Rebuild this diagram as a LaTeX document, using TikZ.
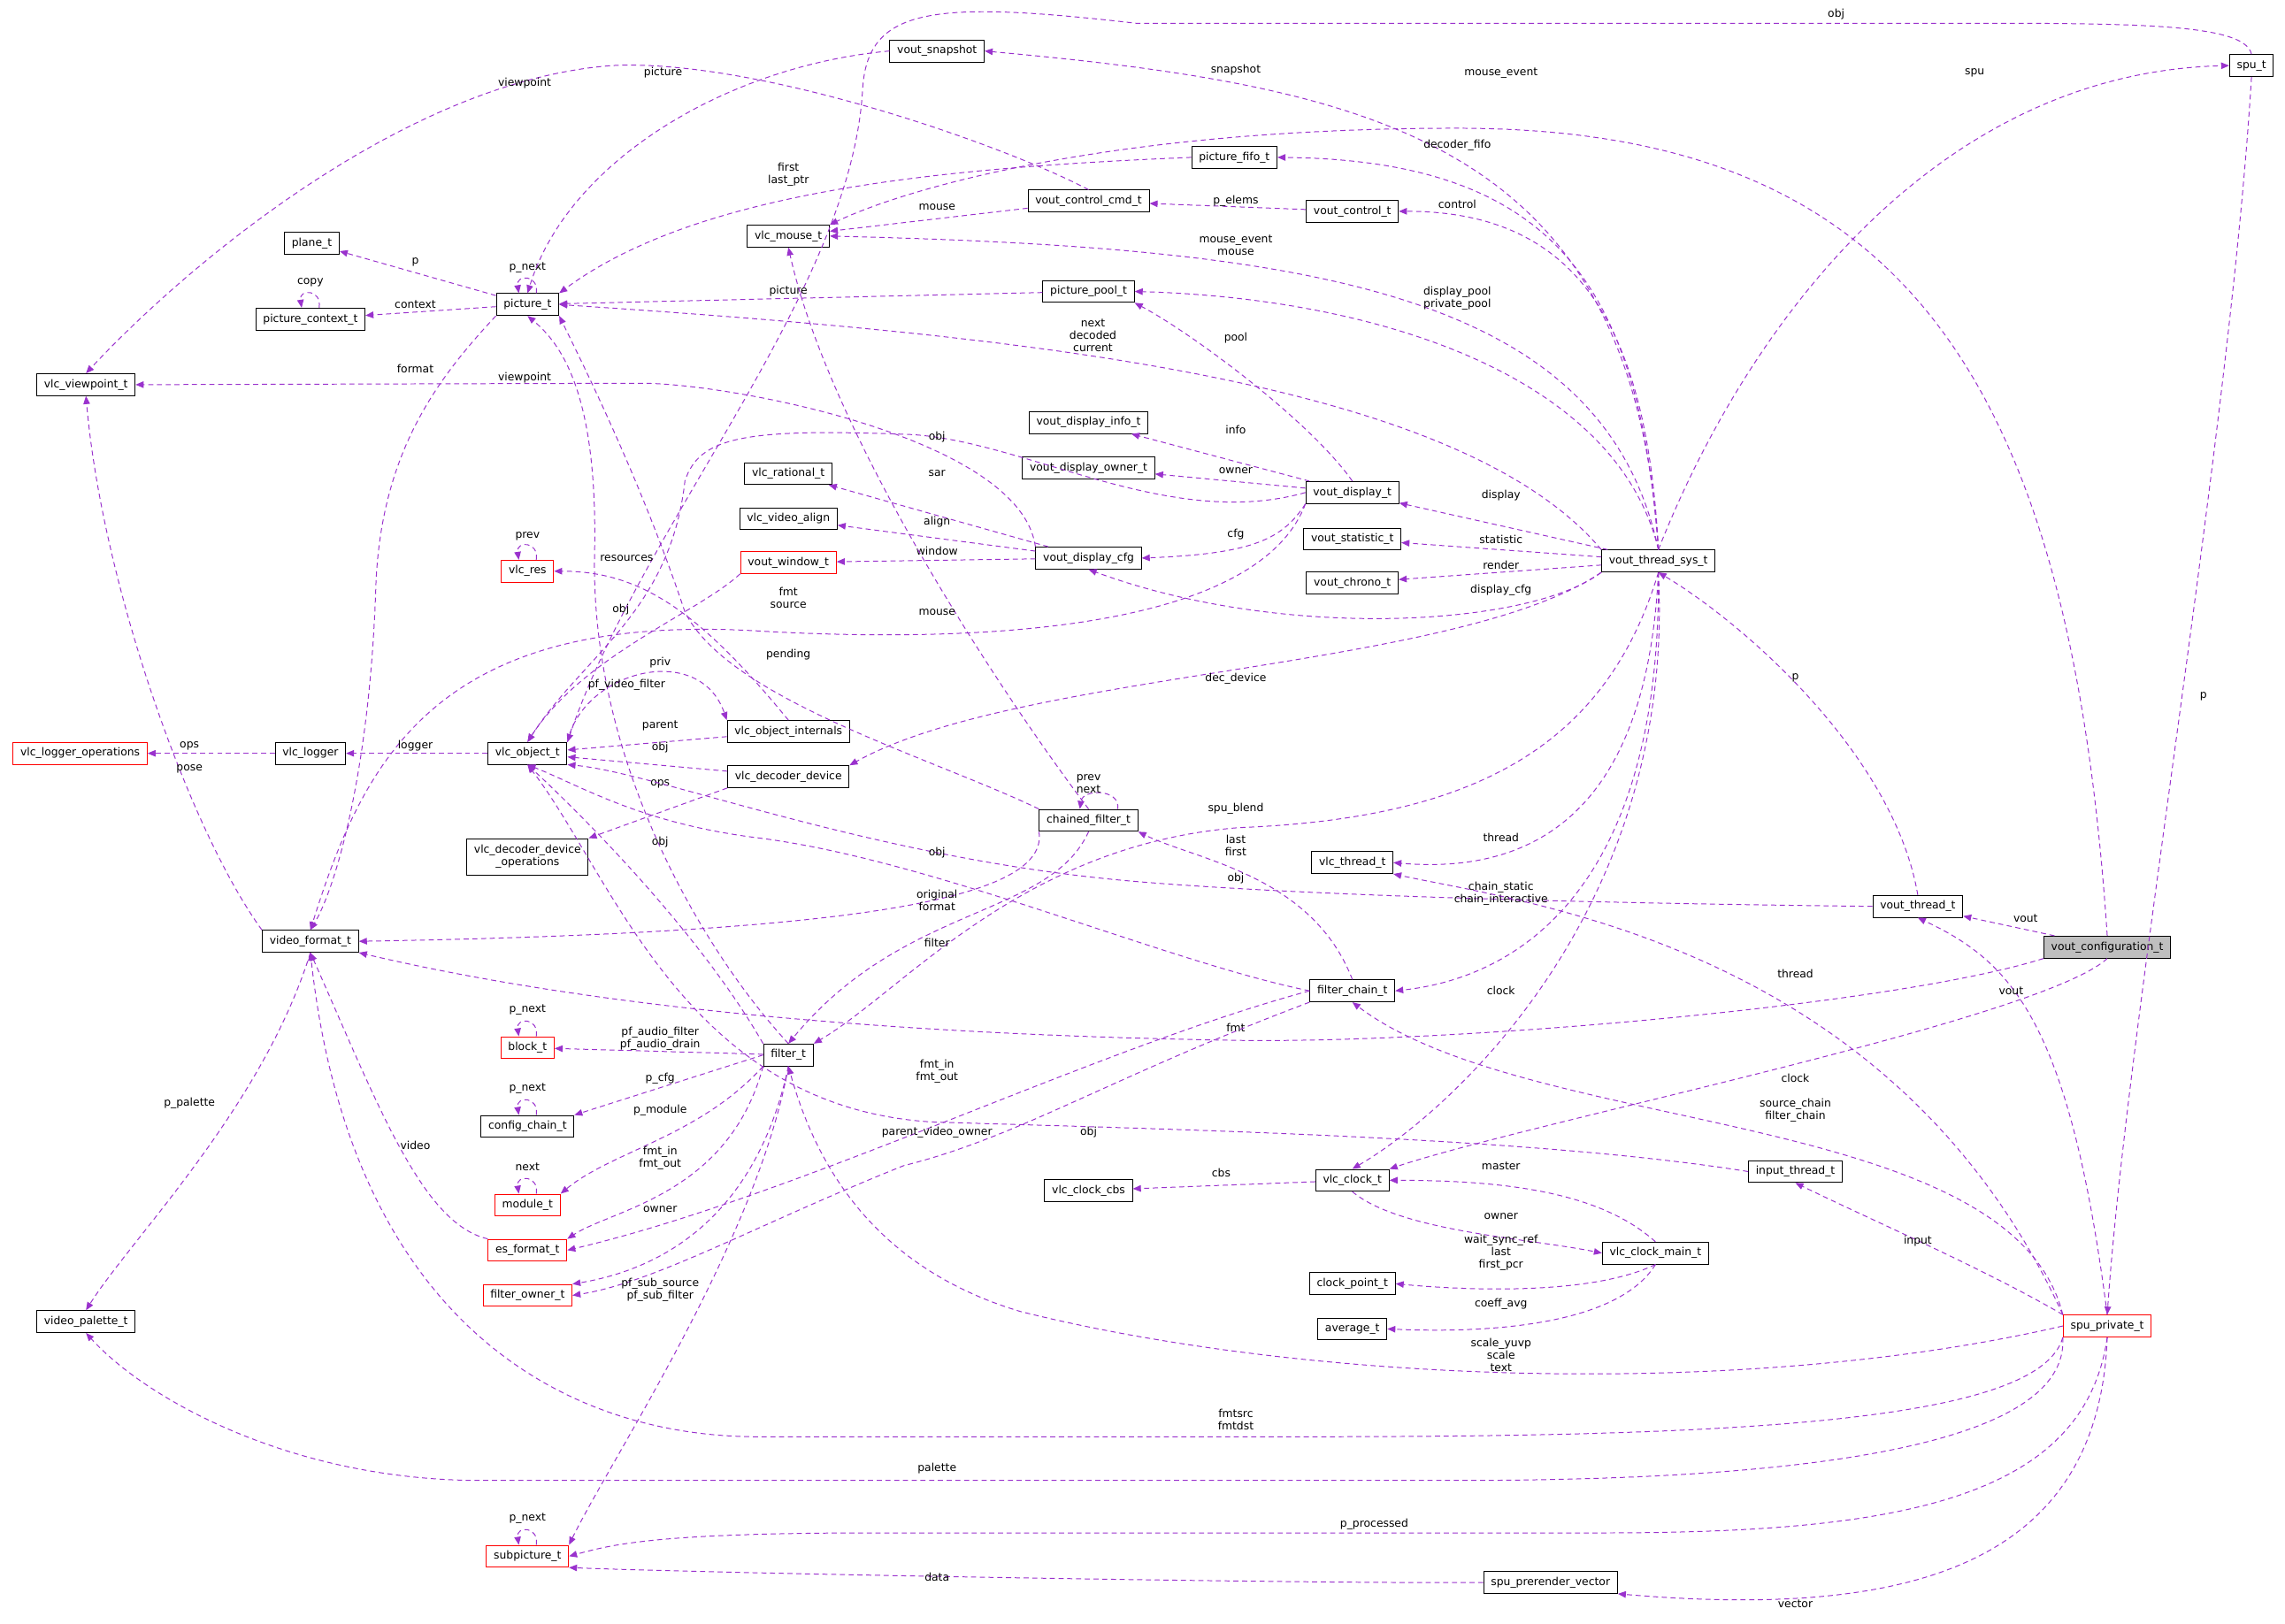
\documentclass[tikz,border=0pt]{standalone}
\usepackage{fontspec}
\setmainfont{DejaVu Sans}
\usetikzlibrary{arrows.meta}
\definecolor{ep}{HTML}{9A32CD}
\begin{document}
\begin{tikzpicture}[x=1pt,y=-1pt,
  box/.style={draw=black,line width=0.6pt,font=\fontsize{7.5}{8.5}\selectfont,inner xsep=5pt,inner ysep=0pt,minimum height=15pt,align=center},
  rbox/.style={box,draw=red},
  gbox/.style={box,fill=black!25},
  lbl/.style={font=\fontsize{7.5}{8.5}\selectfont,inner sep=0pt,align=center},
  e/.style={draw=ep,dashed,dash pattern=on 3.5pt off 2.5pt,line width=0.6pt,-{Triangle[length=5.5pt,width=4.5pt]},color=ep}]
\useasboundingbox[fill=white] (0,0) rectangle (1568,1114);
% nodes
\node[box] (vsnap) at (643,35) {vout\_snapshot};
\node[box] (sput) at (1545,45) {spu\_t};
\node[box] (pfifo) at (847,108) {picture\_fifo\_t};
\node[box] (vccmd) at (747,138) {vout\_control\_cmd\_t};
\node[box] (vctl) at (928,145) {vout\_control\_t};
\node[box] (mouse) at (541,162) {vlc\_mouse\_t};
\node[box] (plane) at (214,167) {plane\_t};
\node[box] (pict) at (362,209) {picture\_t};
\node[box] (pctx) at (213,219) {picture\_context\_t};
\node[box] (ppool) at (747,200) {picture\_pool\_t};
\node[box] (vp) at (59,264) {vlc\_viewpoint\_t};
\node[box] (vdinfo) at (747,290) {vout\_display\_info\_t};
\node[box] (vdowner) at (747,321) {vout\_display\_owner\_t};
\node[box] (rational) at (541,325) {vlc\_rational\_t};
\node[box] (vdisp) at (928,338) {vout\_display\_t};
\node[box] (valign) at (541,356) {vlc\_video\_align};
\node[box] (vdcfg) at (747,383) {vout\_display\_cfg};
\node[rbox] (vwin) at (541,386) {vout\_window\_t};
\node[rbox] (vres) at (362,392) {vlc\_res};
\node[box] (vstat) at (928,370) {vout\_statistic\_t};
\node[box] (vsys) at (1138,385) {vout\_thread\_sys\_t};
\node[box] (vchrono) at (928,400) {vout\_chrono\_t};
\node[box] (objint) at (541,502) {vlc\_object\_internals};
\node[rbox] (logops) at (55,517) {vlc\_logger\_operations};
\node[box] (logger) at (213,517) {vlc\_logger};
\node[box] (obj) at (362,517) {vlc\_object\_t};
\node[box] (decdev) at (541,533) {vlc\_decoder\_device};
\node[box] (cfilt) at (747,563) {chained\_filter\_t};
\node[box,minimum height=25pt] (decops) at (362,588) {vlc\_decoder\_device\\\_operations};
\node[box] (vthread) at (928,592) {vlc\_thread\_t};
\node[box] (vout) at (1316,622) {vout\_thread\_t};
\node[gbox] (vconf) at (1446,650) {vout\_configuration\_t};
\node[box] (vfmt) at (213,646) {video\_format\_t};
\node[box] (fchain) at (928,680) {filter\_chain\_t};
\node[rbox] (block) at (362,719) {block\_t};
\node[box] (filter) at (541,724) {filter\_t};
\node[box] (cfgchain) at (362,773) {config\_chain\_t};
\node[box] (input) at (1232,804) {input\_thread\_t};
\node[box] (clkcbs) at (747,817) {vlc\_clock\_cbs};
\node[box] (clock) at (928,810) {vlc\_clock\_t};
\node[rbox] (module) at (362,827) {module\_t};
\node[box] (clkmain) at (1136,860) {vlc\_clock\_main\_t};
\node[rbox] (esfmt) at (362,858) {es\_format\_t};
\node[rbox] (fowner) at (362,889) {filter\_owner\_t};
\node[box] (clkpt) at (928,881) {clock\_point\_t};
\node[box] (avg) at (928,912) {average\_t};
\node[rbox] (spupriv) at (1446,910) {spu\_private\_t};
\node[box] (vpal) at (59,907) {video\_palette\_t};
\node[rbox] (subpic) at (362,1068) {subpicture\_t};
\node[box] (prerender) at (1064,1086) {spu\_prerender\_vector};
% self loops
\foreach \n in {pict, pctx, vres, block, cfgchain, module, subpic}{
  \draw[e] ([xshift=6pt]\n.north) .. controls +(2,-13) and +(-2,-13) .. ([xshift=-6pt]\n.north);
}
\node[lbl] at (362,184) {p\_next};
\node[lbl] at (213,194) {copy};
\node[lbl] at (362,368) {prev};
\node[lbl] at (362,693) {p\_next};
\node[lbl] at (362,747) {p\_next};
\node[lbl] at (362,801) {next};
\node[lbl] at (362,1042) {p\_next};
\draw[e] ([xshift=20pt]cfilt.north) .. controls +(2,-14) and +(2,-14) .. ([xshift=-6pt]cfilt.north);
\node[lbl] at (747,538) {prev\\next};
% edges
\draw[e] (sput.north) .. controls (1540,14) and (1450,16) .. (1300,16) -- (780,16) .. controls (640,0) and (596,5) .. (592,60) .. controls (585,200) and (440,360) .. (obj.north east);
\node[lbl] at (1260,10) {obj};
\draw[e] (vsys.north) .. controls (1200,220) and (1330,50) .. (sput.west);
\node[lbl] at (1355,50) {spu};
\draw[e] (sput.south) .. controls (1530,300) and (1460,700) .. (spupriv.north);
\node[lbl] at (1512,478) {p};
\draw[e] (vsys.north) .. controls (1120,100) and (950,60) .. (vsnap.east);
\node[lbl] at (848,48) {snapshot};
\draw[e] (vconf.north) .. controls (1420,250) and (1300,88) .. (1000,88) .. controls (760,88) and (620,130) .. (mouse.north east);
\node[lbl] at (1030,50) {mouse\_event};
\draw[e] (vsys.north) .. controls (1125,200) and (1070,110) .. (pfifo.east);
\node[lbl] at (1000,100) {decoder\_fifo};
\draw[e] (vsys.north) .. controls (1130,220) and (1080,145) .. (vctl.east);
\node[lbl] at (1000,140) {control};
\draw[e] (vctl) -- (vccmd);
\node[lbl] at (848,138) {p\_elems};
\draw[e] (vccmd) -- (mouse);
\node[lbl] at (643,142) {mouse};
\draw[e] (vccmd.north) .. controls (690,100) and (520,40) .. (420,45) .. controls (280,55) and (130,180) .. (vp.north);
\node[lbl] at (360,57) {viewpoint};
\draw[e] (vsnap.west) .. controls (500,45) and (390,110) .. (pict.north);
\node[lbl] at (455,50) {picture};
\draw[e] (pfifo.west) .. controls (650,115) and (480,130) .. (pict.north east);
\node[lbl] at (541,120) {first\\last\_ptr};
\draw[e] (vsys.north) .. controls (1100,200) and (900,170) .. (mouse.east);
\node[lbl] at (848,168) {mouse\_event\\mouse};
\draw[e] (pict) -- (plane);
\node[lbl] at (285,180) {p};
\draw[e] (pict) -- (pctx);
\node[lbl] at (285,209) {context};
\draw[e] (ppool) -- (pict);
\node[lbl] at (541,200) {picture};
\draw[e] (vsys.north) .. controls (1110,260) and (950,205) .. (ppool.east);
\node[lbl] at (1000,205) {display\_pool\\private\_pool};
\draw[e] (vdisp.north) .. controls (900,290) and (820,230) .. (ppool.south east);
\node[lbl] at (848,232) {pool};
\draw[e] (vsys.north west) .. controls (1000,260) and (700,230) .. (pict.east);
\node[lbl] at (750,230) {next\\decoded\\current};
\draw[e] (pict.south west) .. controls (300,260) and (262,310) .. (258,400) .. controls (254,530) and (230,610) .. (vfmt.north);
\node[lbl] at (285,253) {format};
\draw[e] (vdcfg.north west) .. controls (700,300) and (500,263) .. (440,263) -- (vp.east);
\node[lbl] at (360,259) {viewpoint};
\draw[e] (vdisp) -- (vdinfo);
\node[lbl] at (848,295) {info};
\draw[e] (vdisp) -- (vdowner);
\node[lbl] at (848,323) {owner};
\draw[e] (vdisp.west) .. controls (800,365) and (700,300) .. (620,298) .. controls (510,294) and (480,300) .. (470,330) .. controls (460,420) and (400,450) .. (obj.north);
\node[lbl] at (643,300) {obj};
\draw[e] (vdcfg) -- (rational);
\node[lbl] at (643,325) {sar};
\draw[e] (vdcfg) -- (valign);
\node[lbl] at (643,358) {align};
\draw[e] (vdcfg) -- (vwin);
\node[lbl] at (643,378) {window};
\draw[e] (vdisp.south west) .. controls (880,370) and (860,380) .. (vdcfg.east);
\node[lbl] at (848,367) {cfg};
\draw[e] (vsys) -- (vdisp);
\node[lbl] at (1030,340) {display};
\draw[e] (vsys) -- (vstat);
\node[lbl] at (1030,370) {statistic};
\draw[e] (vsys) -- (vchrono);
\node[lbl] at (1030,388) {render};
\draw[e] (vsys.south west) .. controls (1050,430) and (880,440) .. (vdcfg.south);
\node[lbl] at (1030,405) {display\_cfg};
\draw[e] (vdisp.south west) .. controls (860,440) and (640,440) .. (520,433) .. controls (300,420) and (250,520) .. (vfmt.north);
\node[lbl] at (541,410) {fmt\\source};
\draw[e] (objint.north) .. controls (480,420) and (440,392) .. (vres.east);
\node[lbl] at (430,383) {resources};
\draw[e] (vwin.south west) .. controls (480,420) and (400,450) .. (obj.north);
\node[lbl] at (426,418) {obj};
\draw[e] (cfilt.north) .. controls (690,480) and (570,300) .. (mouse.south);
\node[lbl] at (643,420) {mouse};
\draw[e] (cfilt.north west) .. controls (640,520) and (500,480) .. (470,420) .. controls (440,330) and (400,250) .. (pict.south east);
\node[lbl] at (541,449) {pending};
\draw[e] (vsys.south west) .. controls (1000,460) and (700,460) .. (decdev.north east);
\node[lbl] at (848,466) {dec\_device};
\draw[e] (obj.north east) .. controls (400,460) and (480,440) .. (objint.north west);
\node[lbl] at (453,455) {priv};
\draw[e] (filter.north) .. controls (480,650) and (405,520) .. (408,380) .. controls (410,280) and (390,240) .. (pict.south);
\node[lbl] at (430,470) {pf\_video\_filter};
\draw[e] (objint) -- (obj);
\node[lbl] at (453,498) {parent};
\draw[e] (decdev) -- (obj);
\node[lbl] at (453,513) {obj};
\draw[e] (decdev.south west) -- (decops.north east);
\node[lbl] at (453,538) {ops};
\draw[e] (logger) -- (logops);
\node[lbl] at (130,512) {ops};
\draw[e] (obj) -- (logger);
\node[lbl] at (285,512) {logger};
\draw[e] (vfmt.north west) .. controls (130,570) and (70,400) .. (vp.south);
\node[lbl] at (130,528) {pose};
\draw[e] (vsys.south) .. controls (1130,560) and (1050,600) .. (vthread.east);
\node[lbl] at (1030,575) {thread};
\draw[e] (fchain.north) .. controls (900,600) and (820,590) .. (cfilt.south east);
\node[lbl] at (848,580) {last\\first};
\draw[e] (vout.west) .. controls (1100,620) and (900,615) .. (780,605) .. controls (600,590) and (450,530) .. (obj.south east);
\node[lbl] at (848,603) {obj};
\draw[e] (cfilt.south west) .. controls (720,615) and (600,640) .. (vfmt.east);
\node[lbl] at (643,618) {original\\format};
\draw[e] (vsys.south) .. controls (1140,600) and (1050,670) .. (fchain.east);
\node[lbl] at (1030,613) {chain\_static\\chain\_interactive};
\draw[e] (spupriv.north west) .. controls (1300,650) and (1050,620) .. (vthread.south east);
\node[lbl] at (1232,668) {thread};
\draw[e] (vsys.south) .. controls (1100,520) and (1000,562) .. (850,568) .. controls (700,580) and (620,680) .. (filter.north east);
\node[lbl] at (848,555) {spu\_blend};
\draw[e] (cfilt.south) .. controls (720,630) and (620,620) .. (filter.north);
\node[lbl] at (643,647) {filter};
\draw[e] (vout.north) .. controls (1300,520) and (1200,430) .. (vsys.south);
\node[lbl] at (1232,465) {p};
\draw[e] (vconf) -- (vout);
\node[lbl] at (1390,630) {vout};
\draw[e] (spupriv.north) .. controls (1420,700) and (1380,660) .. (vout.south);
\node[lbl] at (1380,680) {vout};
\draw[e] (fchain.west) .. controls (800,660) and (640,590) .. (520,575) .. controls (440,565) and (400,540) .. (obj.south);
\node[lbl] at (643,585) {obj};
\draw[e] (vconf.south west) .. controls (1300,690) and (1000,716) .. (850,714) .. controls (600,710) and (400,690) .. (vfmt.south east);
\node[lbl] at (848,705) {fmt};
\draw[e] (vsys.south) .. controls (1150,620) and (1000,760) .. (clock.north);
\node[lbl] at (1030,680) {clock};
\draw[e] (vconf.south) .. controls (1400,700) and (1050,770) .. (clock.north east);
\node[lbl] at (1232,740) {clock};
\draw[e] (filter) -- (block);
\node[lbl] at (453,713) {pf\_audio\_filter\\pf\_audio\_drain};
\draw[e] (filter.west) -- (cfgchain.north east);
\node[lbl] at (453,740) {p\_cfg};
\draw[e] (filter.south west) .. controls (480,780) and (420,790) .. (module.north east);
\node[lbl] at (453,762) {p\_module};
\draw[e] (filter.south west) .. controls (500,820) and (420,830) .. (esfmt.north east);
\node[lbl] at (453,795) {fmt\_in\\fmt\_out};
\draw[e] (fchain.west) .. controls (750,720) and (550,820) .. (esfmt.east);
\node[lbl] at (643,735) {fmt\_in\\fmt\_out};
\draw[e] (fchain.south west) .. controls (760,740) and (700,780) .. (620,800) .. controls (520,840) and (450,880) .. (fowner.east);
\node[lbl] at (643,777) {parent\_video\_owner};
\draw[e] (filter.south) .. controls (520,830) and (460,870) .. (fowner.north east);
\node[lbl] at (453,830) {owner};
\draw[e] (filter.south) .. controls (520,850) and (420,1000) .. (subpic.north east);
\node[lbl] at (453,885) {pf\_sub\_source\\pf\_sub\_filter};
\draw[e] (esfmt.north west) .. controls (290,840) and (260,760) .. (vfmt.south);
\node[lbl] at (285,786) {video};
\draw[e] (vfmt.south) .. controls (180,760) and (90,850) .. (vpal.north);
\node[lbl] at (130,757) {p\_palette};
\draw[e] (input.west) .. controls (1050,780) and (800,775) .. (640,770) .. controls (470,760) and (420,600) .. (obj.south);
\node[lbl] at (747,777) {obj};
\draw[e] (filter.north west) .. controls (480,640) and (400,560) .. (obj.south);
\node[lbl] at (453,578) {obj};
\draw[e] (clock) -- (clkcbs);
\node[lbl] at (838,805) {cbs};
\draw[e] (clkmain.north) .. controls (1100,820) and (1040,810) .. (clock.east);
\node[lbl] at (1030,800) {master};
\draw[e] (clock.south) .. controls (960,845) and (1050,850) .. (clkmain.west);
\node[lbl] at (1030,835) {owner};
\draw[e] (clkmain.south) .. controls (1090,890) and (1000,885) .. (clkpt.east);
\node[lbl] at (1030,860) {wait\_sync\_ref\\last\\first\_pcr};
\draw[e] (clkmain.south) .. controls (1110,910) and (1020,915) .. (avg.east);
\node[lbl] at (1030,895) {coeff\_avg};
\draw[e] (spupriv.north west) .. controls (1360,870) and (1290,840) .. (input.south);
\node[lbl] at (1316,852) {input};
\draw[e] (spupriv.north west) .. controls (1380,760) and (1050,780) .. (fchain.south);
\node[lbl] at (1232,762) {source\_chain\\filter\_chain};
\draw[e] (spupriv.west) .. controls (1200,960) and (900,950) .. (700,900) .. controls (600,870) and (560,800) .. (filter.south);
\node[lbl] at (1030,930) {scale\_yuvp\\scale\\text};
\draw[e] (spupriv.south west) .. controls (1400,975) and (1200,986) .. (900,986) -- (520,986) .. controls (380,986) and (240,900) .. (vfmt.south);
\node[lbl] at (848,974) {fmtsrc\\fmtdst};
\draw[e] (spupriv.south west) .. controls (1420,990) and (1250,1016) .. (1000,1016) -- (330,1016) .. controls (200,1016) and (100,960) .. (vpal.south);
\node[lbl] at (643,1008) {palette};
\draw[e] (spupriv.south) .. controls (1430,1030) and (1300,1052) .. (1100,1052) -- (600,1052) .. controls (450,1052) and (420,1060) .. (subpic.east);
\node[lbl] at (943,1046) {p\_processed};
\draw[e] (prerender.west) .. controls (900,1087) and (500,1080) .. (subpic.south east);
\node[lbl] at (643,1082) {data};
\draw[e] (spupriv.south) .. controls (1440,1080) and (1300,1110) .. (prerender.south east);
\node[lbl] at (1232,1101) {vector};
\end{tikzpicture}
\end{document}
